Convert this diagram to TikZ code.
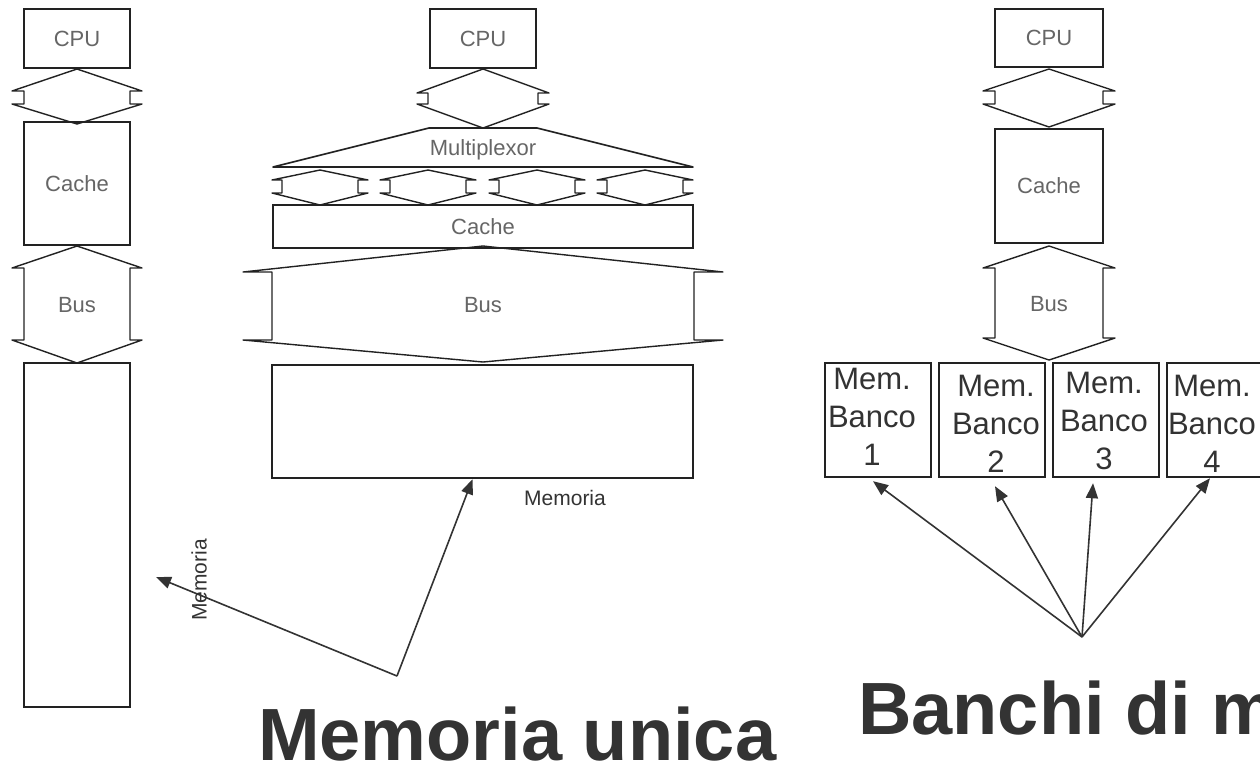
\documentclass[tikz,border=0pt]{standalone}
\usepackage{fontspec}
\setmainfont{Liberation Sans}
\usetikzlibrary{arrows.meta,fit,calc}
\definecolor{ink}{HTML}{333333}
\definecolor{labc}{HTML}{666666}
\definecolor{edge}{HTML}{222222}
% up-down bus arrow: cx, ytop, ybot, half wing, half shaft, y1, y2
\newcommand\udarrowshape[7]{%
  \draw[bus] (#1,#2) -- (#1-#4,#6) -- (#1-#5,#6) -- (#1-#5,#7) -- (#1-#4,#7) -- (#1,#3)
    -- (#1+#4,#7) -- (#1+#5,#7) -- (#1+#5,#6) -- (#1+#4,#6) -- cycle;}
\begin{document}
\begin{tikzpicture}[x=1pt,y=-1pt,
  box/.style={draw=edge,line width=2.4pt,inner sep=0pt},
  bus/.style={draw=edge,line width=1.4pt,line join=round},
  lab/.style={text=labc,font=\fontsize{22}{26}\selectfont,inner sep=0pt},
  bank/.style={text=ink,font=\fontsize{31}{38}\selectfont,align=center,inner sep=0pt},
  arr/.style={draw=ink,line width=1.6pt,-{Triangle[length=15pt,width=12pt]}},
  title/.style={text=ink,font=\fontsize{74}{80}\selectfont\bfseries,inner sep=0pt,anchor=base west}]
\useasboundingbox (0,0) rectangle (1260,764);
\clip (0,0) rectangle (1260,764);
\fill[white] (0,0) rectangle (1260,764);

% ---------- left column ----------
\udarrowshape{77}{69}{124}{65}{53}{91}{104}
\udarrowshape{77}{246}{363}{65}{53}{268}{340}
\node[box,fit={(24,9) (130,68)}] (cpuL) {};
\node[lab] at (cpuL.center) {CPU};
\node[box,fit={(24,122) (130,245)}] (cacheL) {};
\node[lab] at (cacheL.center) {Cache};
\node[lab] (busL) at (77,305) {Bus};
\node[box,fit={(24,363) (130,707)}] (memL) {};

% ---------- middle column ----------
\udarrowshape{483}{69}{128}{66}{55}{93}{104}
\draw[bus,line width=1.6pt] (429,128) -- (537,128) -- (693,167) -- (273,167) -- cycle;
\node[lab] (mux) at (483,150) {Multiplexor};
\udarrowshape{320}{170}{205}{48}{38}{180}{193}
\udarrowshape{428}{170}{205}{48}{38}{180}{193}
\udarrowshape{537}{170}{205}{48}{38}{180}{193}
\udarrowshape{645}{170}{205}{48}{38}{180}{193}
\node[box,fit={(430,9) (536,68)}] (cpuM) {};
\node[lab] at (cpuM.center) {CPU};
\node[box,fit={(273,205) (693,248)}] (cacheM) {};
\node[lab] at (cacheM.center) {Cache};
\udarrowshape{483}{246}{362}{240}{211}{272}{340}
\node[lab] (busM) at (483,305) {Bus};
\node[box,fit={(272,365) (693,478)}] (memM) {};
\node[text=ink,font=\fontsize{21}{24}\selectfont,inner sep=0pt,anchor=base] (memlab) at (565,505) {Memoria};
\node[text=ink,font=\fontsize{21}{24}\selectfont,inner sep=0pt,rotate=90] (memlabv) at (199,580) {Memoria};

\coordinate (hubL) at (397,676);
\coordinate (memLtip) at (156,577);
\draw[arr] (hubL) -- ($(memM.south)+(-10,0)$);
\draw[arr] (hubL) -- (memLtip);

% ---------- right column ----------
\udarrowshape{1049}{69}{127}{66}{54}{91}{104}
\udarrowshape{1049}{246}{360}{66}{54}{268}{338}
\node[box,fit={(995,9) (1103,67)}] (cpuR) {};
\node[lab] at (cpuR.center) {CPU};
\node[box,fit={(995,129) (1103,243)}] (cacheR) {};
\node[lab] at (cacheR.center) {Cache};
\node[lab] (busR) at (1049,304) {Bus};

\node[box,fit={(825,363) (931,477)}] (b1) {};
\node[box,fit={(939,363) (1045,477)}] (b2) {};
\node[box,fit={(1053,363) (1159,477)}] (b3) {};
\node[box,fit={(1167,363) (1273,477)}] (b4) {};
\node[bank] (t1) at (872,416.5) {Mem.\\Banco\\1};
\node[bank] (t2) at (996,424) {Mem.\\Banco\\2};
\node[bank] (t3) at (1104,420.5) {Mem.\\Banco\\3};
\node[bank] (t4) at (1212,424) {Mem.\\Banco\\4};

\coordinate (hubR) at (1082,637);
\draw[arr] (hubR) -- ($(b1.south)+(-5,3)$);
\draw[arr] (hubR) -- ($(b2.south)+(3,8)$);
\draw[arr] (hubR) -- ($(b3.south)+(-13,5)$);
\draw[arr] (hubR) -- ($(b4.south)+(-10,0)$);

% ---------- titles ----------
\node[title] (titL) at (258,760) {Memoria unica};
\node[title] (titR) at (858,734) {Banchi di memoria};
\end{tikzpicture}
\end{document}
